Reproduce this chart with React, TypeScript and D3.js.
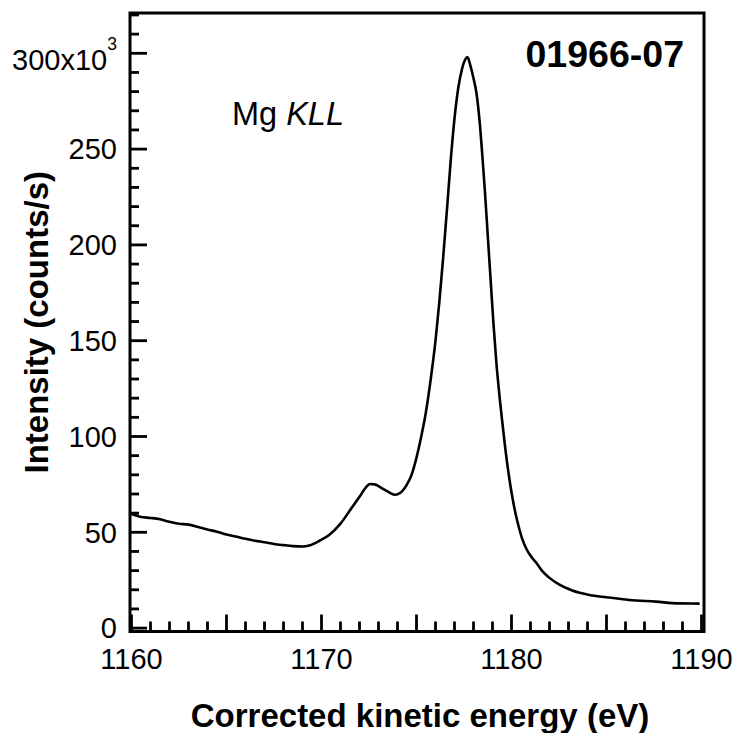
import React from "react";
import * as d3 from "d3";

const energy = [
  1160.0, 1160.5, 1161.0, 1161.5, 1162.0, 1162.5, 1163.0, 1163.5, 1164.0, 1164.5,
  1165.0, 1165.5, 1166.0, 1166.5, 1167.0, 1167.5, 1168.0, 1168.5, 1169.0, 1169.4,
  1169.9, 1170.4, 1171.0, 1171.5, 1172.0, 1172.3, 1172.55, 1172.8, 1173.15, 1173.5,
  1173.85, 1174.1, 1174.47, 1174.74, 1175.0, 1175.25, 1175.5, 1175.75, 1176.0, 1176.2,
  1176.4, 1176.6, 1176.8, 1177.0, 1177.2, 1177.4, 1177.55, 1177.68, 1177.85, 1178.0,
  1178.16, 1178.33, 1178.47, 1178.6, 1178.75, 1178.9, 1179.05, 1179.2, 1179.4, 1179.6,
  1179.8, 1180.05, 1180.3, 1180.55, 1180.8, 1181.1, 1181.35, 1181.6, 1181.95, 1182.5,
  1183.2, 1184.1, 1185.0, 1186.2, 1187.6, 1188.8, 1189.9,
];
const intensity = [
  59.5, 58.0, 57.5, 56.8, 55.5, 54.5, 54.0, 52.8, 51.5, 50.3,
  48.8, 47.8, 46.6, 45.6, 44.8, 43.9, 43.3, 42.8, 42.6, 43.3,
  45.6, 48.6, 54.5, 61.5, 68.5, 73.0, 75.2, 75.0, 73.2, 71.2,
  69.6, 70.3, 74.5, 80.0, 89.0, 100.0, 113.0, 130.0, 150.0, 170.0,
  193.0, 218.0, 244.0, 266.0, 282.0, 292.0, 296.5, 298.0, 293.0, 287.0,
  279.0, 263.5, 246.0, 228.0, 205.0, 182.0, 159.0, 139.0, 118.0, 100.0,
  84.0, 68.0, 56.0, 47.0, 41.0, 36.5, 33.5, 30.0, 26.6, 22.8,
  19.6, 17.3, 16.1, 14.7, 13.8, 12.9, 12.8,
];

const xMajor = [1160, 1165, 1170, 1175, 1180, 1185, 1190];
const xLabels = ["1160", "1170", "1180", "1190"];
const yMajor = [0, 50, 100, 150, 200, 250, 300];
const yLabels = ["0", "50", "100", "150", "200", "250", "300"];

const FONT = "'Liberation Sans', Arial, sans-serif";

export default function App() {
  const W = 736, H = 733;
  const x = d3.scaleLinear().domain([1160, 1190]).range([131.5, 701.5]);
  const y = d3.scaleLinear().domain([0, 300]).range([628.1, 53.3]);
  const frame = { left: 130, right: 704, top: 13, bottom: 631.5 };

  const pts: [number, number][] = energy.map((e, i) => [e, intensity[i]]);
  const line = d3
    .line<[number, number]>()
    .x((d) => x(d[0]))
    .y((d) => y(d[1]))
    .curve(d3.curveMonotoneX);

  const xMinor = d3.range(1161, 1190, 1).filter((v) => v % 5 !== 0);
  const yMinor = d3.range(10, 321, 10).filter((v) => v % 50 !== 0);

  return (
    <svg width={W} height={H} style={{ position: "absolute", left: 0, top: 0, background: "#fff" }}>
      <rect x={0} y={0} width={W} height={H} fill="#fff" />
      <g stroke="#000" strokeWidth={2.8}>
        {xMajor.map((v) => (
          <line key={"xM" + v} x1={x(v)} x2={x(v)} y1={frame.bottom} y2={frame.bottom - 17} />
        ))}
        {xMinor.map((v) => (
          <line key={"xm" + v} x1={x(v)} x2={x(v)} y1={frame.bottom} y2={frame.bottom - 10} />
        ))}
        {yMajor.map((v) => (
          <line key={"yM" + v} x1={frame.left} x2={frame.left + 17} y1={y(v)} y2={y(v)} />
        ))}
        {yMinor.map((v) => (
          <line key={"ym" + v} x1={frame.left} x2={frame.left + 9} y1={y(v)} y2={y(v)} />
        ))}
      </g>
      <rect
        x={frame.left}
        y={frame.top}
        width={frame.right - frame.left}
        height={frame.bottom - frame.top}
        fill="none"
        stroke="#000"
        strokeWidth={3}
      />
      <path d={line(pts) || ""} fill="none" stroke="#000" strokeWidth={2.6} strokeLinejoin="round" />

      <g fontFamily={FONT} fontSize={29} fill="#000">
        {xLabels.map((l) => (
          <text key={"xl" + l} x={x(+l)} y={669} textAnchor="middle">{l}</text>
        ))}
        {yLabels.map((l) =>
          l === "300" ? (
            <text key={"yl" + l} x={117} y={y(+l) + 16.7} textAnchor="end">
              300x10<tspan fontSize={17.5} dy={-20}>3</tspan>
            </text>
          ) : (
            <text key={"yl" + l} x={117} y={y(+l) + 10.3} textAnchor="end">{l}</text>
          )
        )}
      </g>

      <text x={420} y={727} textAnchor="middle" fontFamily={FONT} fontWeight="bold" fontSize={33}>
        Corrected kinetic energy (eV)
      </text>
      <text
        transform={`translate(48,${(frame.top + frame.bottom) / 2}) rotate(-90)`}
        textAnchor="middle"
        fontFamily={FONT}
        fontWeight="bold"
        fontSize={33}
      >
        Intensity (counts/s)
      </text>

      <text x={684} y={67} textAnchor="end" fontFamily={FONT} fontWeight="bold" fontSize={37.5}>
        01966-07
      </text>
      <text x={232} y={125} fontFamily={FONT} fontSize={32.5}>
        Mg <tspan fontStyle="italic">KLL</tspan>
      </text>
    </svg>
  );
}
